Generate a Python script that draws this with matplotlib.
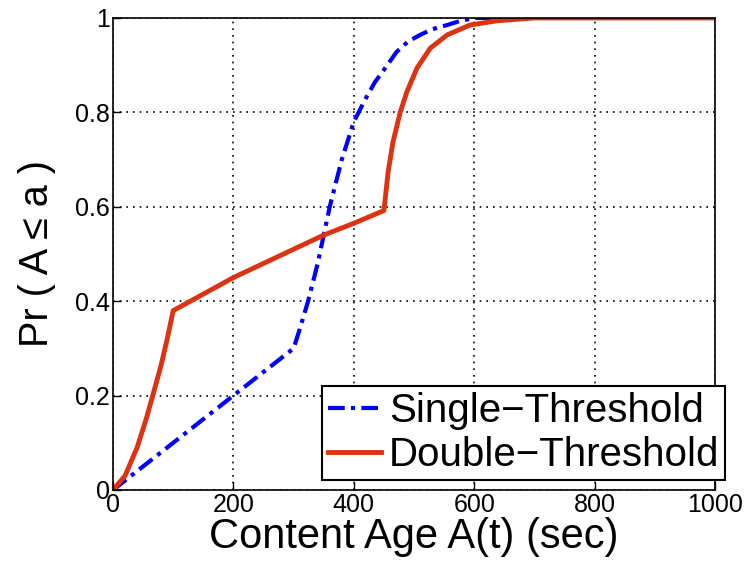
import matplotlib
matplotlib.use("Agg")
import matplotlib.pyplot as plt

plt.rcParams["font.family"] = ["Liberation Sans", "DejaVu Sans"]

# Single-threshold CDF of content age
single_x = [0, 100, 200, 300, 310, 324, 340, 360, 380, 400, 420, 435, 450, 471, 490, 510,
            530, 555, 575, 600, 1000]
single_y = [0, 0.10, 0.20, 0.30, 0.34, 0.40, 0.48, 0.60, 0.70, 0.78, 0.83, 0.864, 0.89,
            0.928, 0.95, 0.964, 0.976, 0.985, 0.993, 1.0, 1.0]

# Double-threshold CDF of content age
double_x = [0, 20, 40, 55, 66, 80, 90, 100, 150, 200, 250, 300, 350, 400, 450, 457, 465,
            477, 488, 505, 527, 555, 593, 638, 700, 1000]
double_y = [0, 0.03, 0.09, 0.15, 0.20, 0.265, 0.32, 0.38, 0.415, 0.45, 0.48, 0.51, 0.54,
            0.565, 0.592, 0.674, 0.737, 0.80, 0.843, 0.894, 0.936, 0.964, 0.985, 0.994,
            1.0, 1.0]

xticks = [0, 200, 400, 600, 800, 1000]
yticks = [0, 0.2, 0.4, 0.6, 0.8, 1]
ytick_labels = ["0", "0.2", "0.4", "0.6", "0.8", "1"]

fig = plt.figure(figsize=(7.56, 5.61), dpi=100)
ax = fig.add_axes([0.1495, 0.1266, 0.7963, 0.8414])

ax.plot(single_x, single_y, color="#0000ff", linestyle="-.", linewidth=3,
        dashes=(4, 1.5, 1, 1.5), label="Single\u2212Threshold")
ax.plot(double_x, double_y, color="#dd3311", linestyle="-", linewidth=3.5,
        label="Double\u2212Threshold")

ax.set_xlim(0, 1000)
ax.set_ylim(0, 1)
ax.set_xticks(xticks)
ax.set_yticks(yticks)
ax.set_yticklabels(ytick_labels)
ax.tick_params(direction="in", labelsize=18, length=6, width=1, pad=2)
ax.grid(True, color="black", linestyle=(0, (1, 3)), linewidth=1.2)
for s in ax.spines.values():
    s.set_linewidth(1.2)

ax.set_xlabel("Content Age A(t) (sec)", fontsize=30, labelpad=0)
ax.set_ylabel("Pr ( A \u2264 a )", fontsize=28.5, labelpad=14)

leg = ax.legend(loc="lower right", bbox_to_anchor=(1.017, 0.021), borderaxespad=0,
                fontsize=29, fancybox=False, framealpha=1, edgecolor="black",
                handlelength=1.3, handletextpad=0.2, borderpad=0.15, labelspacing=0.15)
leg.get_frame().set_linewidth(1.5)

fig.savefig("out.png", dpi=100)
